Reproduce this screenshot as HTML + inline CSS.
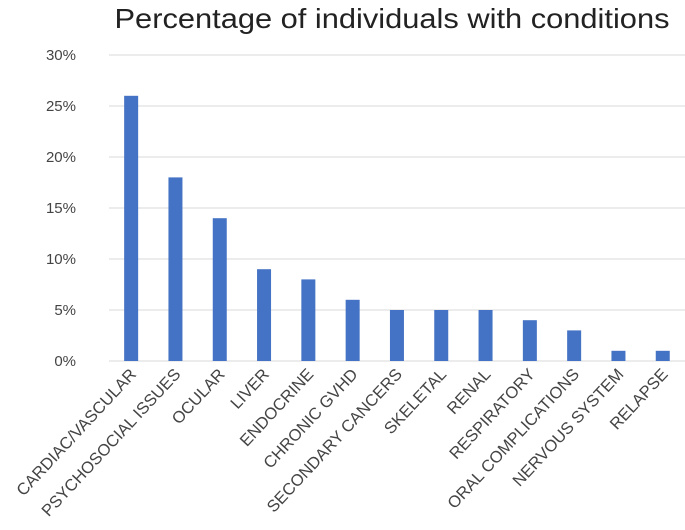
<!DOCTYPE html>
<html><head><meta charset="utf-8"><style>
body{margin:0;background:#fff;}
svg{display:block;font-family:"Liberation Sans",sans-serif;}
</style></head><body>
<svg id="chart" width="685" height="530">
<text x="392" y="28" text-anchor="middle" font-size="28" textLength="555" lengthAdjust="spacingAndGlyphs" fill="#222">Percentage of individuals with conditions</text>
<g id="grid"></g><g id="bars"></g><g id="xl"></g>
</svg>
<script>
const categories=["CARDIAC/VASCULAR","PSYCHOSOCIAL ISSUES","OCULAR","LIVER","ENDOCRINE","CHRONIC GVHD","SECONDARY CANCERS","SKELETAL","RENAL","RESPIRATORY","ORAL COMPLICATIONS","NERVOUS SYSTEM","RELAPSE"];
const values=[26,18,14,9,8,6,5,5,5,4,3,1,1];
const ticks=[0,5,10,15,20,25,30];
const tickLabels=["0%","5%","10%","15%","20%","25%","30%"];
const NS="http://www.w3.org/2000/svg";
const y0=361,y1=55,ymax=30,x0=109,step=44.3,bw=14;
const y=v=>y0-(v/ymax)*(y0-y1);
const xc=i=>x0+step*(i+0.5);
function mk(t,a,p){const e=document.createElementNS(NS,t);for(const k in a)e.setAttribute(k,a[k]);document.getElementById(p).appendChild(e);return e;}
ticks.forEach((t,i)=>{
 const l=mk("line",{x1:x0,x2:685,y1:y(t),y2:y(t),stroke:"#d9d9d9","stroke-width":1},"grid");
 
 
 const tx=mk("text",{x:76,y:y(t)+5,"text-anchor":"end","font-size":15,fill:"#444"},"grid");
 tx.textContent=tickLabels[i];
 
 
});
values.forEach((v,i)=>{
 const r=mk("rect",{x:xc(i)-bw/2,y:y(v),width:bw,height:y0-y(v),fill:"#4472C4"},"bars");
 
 
 const t=mk("text",{x:0,y:0,"text-anchor":"end","font-size":16.5,fill:"#444",transform:`translate(${xc(i)+6},${y0+14}) rotate(-47)`},"xl");
 t.textContent=categories[i];
 
 
});
</script>
</body></html>
